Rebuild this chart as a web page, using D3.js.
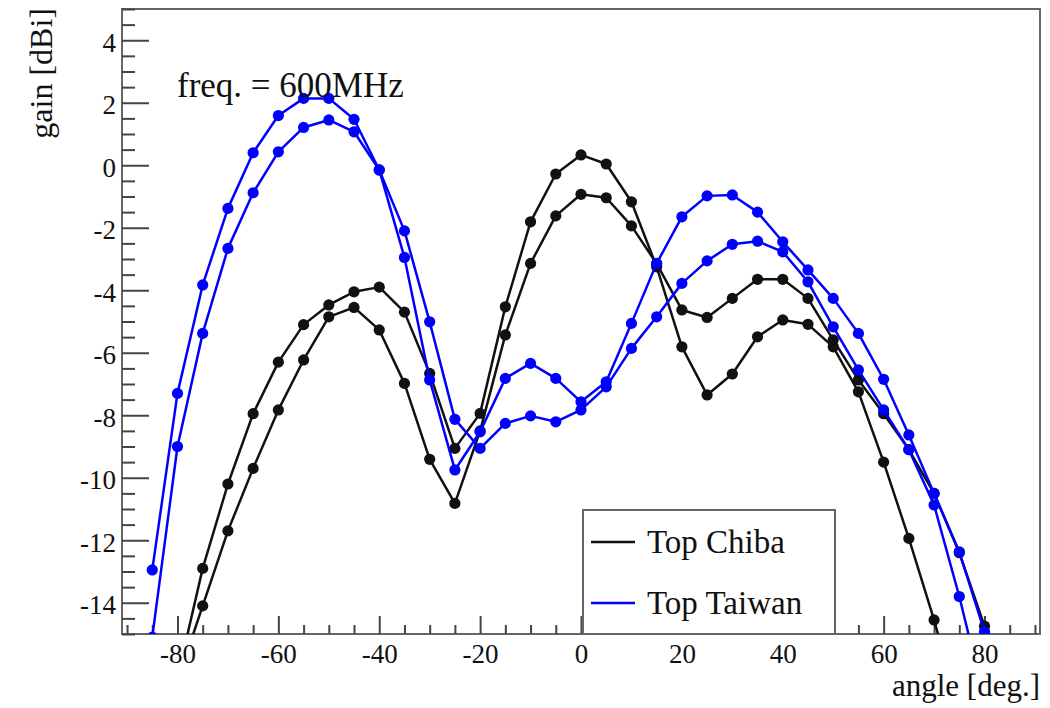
<!DOCTYPE html>
<html>
<head>
<meta charset="utf-8">
<script src="https://cdn.jsdelivr.net/npm/d3@7"></script>
<style>
  html, body { margin: 0; padding: 0; background: #fff; }
  svg { display: block; }
  text { font-family: "Liberation Serif", "Times New Roman", serif; fill: #111; }
</style>
</head>
<body>
<svg id="chart" width="1050" height="708"></svg>
<script>
// ---------------- data ----------------
const angles = [-85,-80,-75,-70,-65,-60,-55,-50,-45,-40,-35,-30,-25,-20,-15,-10,-5,0,5,10,15,20,25,30,35,40,45,50,55,60,65,70,75,80];

const chibaA = [null,-16.4,-12.9,-10.2,-7.95,-6.3,-5.1,-4.47,-4.05,-3.9,-4.7,-6.66,-9.06,-7.94,-4.53,-1.81,-0.28,0.33,0.04,-1.17,-3.25,-5.81,-7.35,-6.68,-5.49,-4.95,-5.09,-5.81,-7.25,-9.5,-11.94,-14.55,-17.5,null];
const chibaB = [null,-16.5,-14.1,-11.7,-9.7,-7.83,-6.23,-4.85,-4.55,-5.27,-6.98,-9.41,-10.82,-8.5,-5.43,-3.14,-1.62,-0.93,-1.04,-1.94,-3.15,-4.63,-4.87,-4.26,-3.65,-3.65,-4.26,-5.59,-6.87,-7.95,-9.1,-10.5,-12.4,-14.75];
const taiwanA = [-12.95,-7.3,-3.83,-1.38,0.40,1.59,2.14,2.14,1.47,-0.15,-2.1,-5.01,-8.13,-9.06,-8.26,-8.02,-8.21,-7.83,-7.09,-5.86,-4.85,-3.78,-3.06,-2.53,-2.43,-2.77,-3.73,-5.17,-6.55,-7.83,-9.1,-10.87,-13.8,-17.1];
const taiwanB = [-15.1,-9.0,-5.38,-2.66,-0.88,0.43,1.21,1.45,1.07,-0.15,-2.95,-6.87,-9.75,-8.53,-6.82,-6.34,-6.82,-7.57,-6.93,-5.06,-3.14,-1.65,-0.98,-0.95,-1.5,-2.45,-3.35,-4.26,-5.38,-6.85,-8.63,-10.5,-12.37,-14.93];

const xTicks = [-80,-60,-40,-20,0,20,40,60,80];
const yTicks = [-14,-12,-10,-8,-6,-4,-2,0,2,4];
const legendLabels = ["Top Chiba", "Top Taiwan"];
const seriesColors = ["#111111", "#0000ff"];

// ---------------- layout ----------------
const svg = d3.select("#chart");
const L = 122, R = 1040, T = 9, B = 634;
const x = d3.scaleLinear().domain([-91, 91]).range([L, R]);
const y = d3.scaleLinear().domain([-15, 5]).range([B, T]);
const fmt = d => String(d);

svg.append("defs").append("clipPath").attr("id", "plotclip")
  .append("rect").attr("x", L).attr("y", T).attr("width", R - L).attr("height", B - T);

// frame
svg.append("rect").attr("x", L).attr("y", T).attr("width", R - L).attr("height", B - T)
  .attr("fill", "none").attr("stroke", "#666").attr("stroke-width", 2);

// x axis major
const xAxis = svg.append("g").attr("transform", `translate(0,${B})`)
  .call(d3.axisBottom(x).tickValues(xTicks).tickSizeInner(-18).tickSizeOuter(0).tickPadding(10).tickFormat(fmt));
xAxis.select(".domain").remove();
xAxis.selectAll("line").attr("stroke", "#444").attr("stroke-width", 2);
xAxis.selectAll("text").attr("font-size", 27).attr("font-family", "Liberation Serif").attr("fill", "#111");
// x minor
const xMinor = svg.append("g").attr("transform", `translate(0,${B})`)
  .call(d3.axisBottom(x).tickValues(d3.range(-90, 91, 5).filter(v => v % 20 !== 0)).tickSizeInner(-9).tickSizeOuter(0).tickFormat(""));
xMinor.select(".domain").remove();
xMinor.selectAll("line").attr("stroke", "#444").attr("stroke-width", 2);

// y axis major
const yAxis = svg.append("g").attr("transform", `translate(${L},0)`)
  .call(d3.axisLeft(y).tickValues(yTicks).tickSizeInner(-27).tickSizeOuter(0).tickPadding(6).tickFormat(fmt));
yAxis.select(".domain").remove();
yAxis.selectAll("line").attr("stroke", "#444").attr("stroke-width", 2);
yAxis.selectAll("text").attr("font-size", 27).attr("font-family", "Liberation Serif").attr("fill", "#111").attr("dy", "0.40em");
// y minor
const yMinor = svg.append("g").attr("transform", `translate(${L},0)`)
  .call(d3.axisLeft(y).tickValues(d3.range(-15, 5.01, 0.5).filter(v => Math.abs(v % 2) > 1e-6)).tickSizeInner(-13).tickSizeOuter(0).tickFormat(""));
yMinor.select(".domain").remove();
yMinor.selectAll("line").attr("stroke", "#444").attr("stroke-width", 2);

// axis titles
svg.append("text").attr("x", R).attr("y", 696).attr("text-anchor", "end")
  .attr("font-size", 31).text("angle [deg.]");
svg.append("text").attr("transform", `translate(52,8) rotate(-90)`).attr("text-anchor", "end")
  .attr("font-size", 32).text("gain [dBi]");

// ---------------- series ----------------
const plot = svg.append("g").attr("clip-path", "url(#plotclip)");
const line = d3.line().defined(d => d[1] !== null).x(d => x(d[0])).y(d => y(d[1]));

function drawSeries(vals, color) {
  const pts = angles.map((a, i) => [a, vals[i]]);
  plot.append("path").datum(pts).attr("d", line)
    .attr("fill", "none").attr("stroke", color).attr("stroke-width", 2.5).attr("stroke-linejoin", "round");
  plot.append("g").selectAll("circle").data(pts.filter(d => d[1] !== null)).join("circle")
    .attr("cx", d => x(d[0])).attr("cy", d => y(d[1])).attr("r", 5.6).attr("fill", color);
}
drawSeries(chibaA, seriesColors[0]);
drawSeries(chibaB, seriesColors[0]);
drawSeries(taiwanA, seriesColors[1]);
drawSeries(taiwanB, seriesColors[1]);

// annotation
svg.append("text").attr("x", 177).attr("y", 97).attr("font-size", 35).text("freq. = 600MHz");

// ---------------- legend ----------------
const lg = svg.append("g");
lg.append("rect").attr("x", 583).attr("y", 510).attr("width", 252).attr("height", B - 510)
  .attr("fill", "#fff").attr("stroke", "#666").attr("stroke-width", 2);
legendLabels.forEach((lab, i) => {
  const yy = 542 + i * 61;
  lg.append("line").attr("x1", 591).attr("x2", 635).attr("y1", yy).attr("y2", yy)
    .attr("stroke", seriesColors[i]).attr("stroke-width", 2.5);
  lg.append("text").attr("x", 647).attr("y", yy + 11).attr("font-size", 33).text(lab);
});
</script>
</body>
</html>
